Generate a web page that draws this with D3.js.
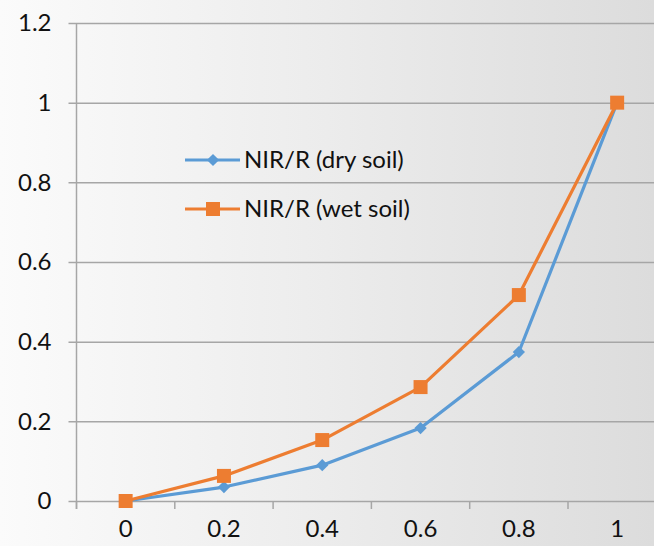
<!DOCTYPE html>
<html><head><meta charset="utf-8">
<script src="https://cdn.jsdelivr.net/npm/d3@7"></script>
<style>html,body{margin:0;padding:0;background:#fff}svg{display:block}</style>
</head><body>
<svg id="c" width="654" height="546"></svg>
<script>
const categories = ["0", "0.2", "0.4", "0.6", "0.8", "1"];
const drySoil = [0, 0.035, 0.09, 0.183, 0.374, 1];
const wetSoil = [0, 0.063, 0.153, 0.286, 0.517, 1];
const yTicks = [0, 0.2, 0.4, 0.6, 0.8, 1, 1.2];
const seriesNames = ["NIR/R (dry soil)", "NIR/R (wet soil)"];
const seriesColors = ["#5B9BD5", "#ED7D31"];

const W = 654, H = 546;
const svg = d3.select("#c");
const defs = svg.append("defs");
const grad = defs.append("linearGradient").attr("id","bg").attr("x1","0").attr("x2","1").attr("y1","0").attr("y2","0");
grad.append("stop").attr("offset","0").attr("stop-color","#fbfbfb");
grad.append("stop").attr("offset","0.5").attr("stop-color","#ececec");
grad.append("stop").attr("offset","1").attr("stop-color","#dcdcdc");
svg.append("rect").attr("width",W).attr("height",H).attr("fill","url(#bg)");

const plotLeft = 76.5, plotTop = 23, plotBottom = 501;
const x = d3.scaleBand().domain(categories).range([plotLeft, plotLeft + 6*98.3]);
const y = d3.scaleLinear().domain([0, 1.2]).range([plotBottom, plotTop]);
const font = "Lato, 'Open Sans', sans-serif";
const gridColor = "#a6a6a6";

// gridlines
const yAxis = d3.axisLeft(y).tickValues(yTicks).tickSize(-(W - plotLeft)).tickPadding(25)
  .tickFormat(d => d3.format("~g")(d));
const gy = svg.append("g").attr("transform", `translate(${plotLeft},0)`).call(yAxis);
gy.select(".domain").remove();
gy.selectAll(".tick line").attr("stroke", gridColor).attr("stroke-width", 1.5).attr("x1", -8);
gy.selectAll(".tick text").attr("font-family", font).attr("font-size", 24).attr("fill", "#111");

// y axis line
svg.append("line").attr("x1", plotLeft).attr("x2", plotLeft).attr("y1", plotTop).attr("y2", plotBottom + 8)
  .attr("stroke", gridColor).attr("stroke-width", 1.5);

// x axis
const xAxis = d3.axisBottom(x).tickSize(0).tickPadding(29);
const gx = svg.append("g").attr("transform", `translate(0,${plotBottom})`).call(xAxis);
gx.select(".domain").remove();
gx.selectAll(".tick text").attr("font-family", font).attr("font-size", 24).attr("fill", "#111").attr("dy","0.3em");
// category boundary ticks
const bounds = categories.map(c => x(c) + x.bandwidth()).concat([x(categories[0])]);
svg.append("g").selectAll("line").data(bounds).join("line")
  .attr("x1", d => d).attr("x2", d => d).attr("y1", plotBottom).attr("y2", plotBottom + 8)
  .attr("stroke", gridColor).attr("stroke-width", 1.5);

const cx = c => x(c) + x.bandwidth()/2;
const line = d3.line().x(d => cx(d.c)).y(d => y(d.v));
const series = [drySoil, wetSoil].map((vals, i) => ({
  name: seriesNames[i], color: seriesColors[i],
  pts: vals.map((v, j) => ({c: categories[j], v}))
}));
const diamond = d3.symbol().type(d3.symbolSquare).size(75)();
const square = d3.symbol().type(d3.symbolSquare).size(196)();

series.forEach((s, i) => {
  svg.append("path").datum(s.pts).attr("d", line).attr("fill","none")
    .attr("stroke", s.color).attr("stroke-width", 3.2).attr("stroke-linejoin","round");
  svg.append("g").selectAll("path").data(s.pts).join("path")
    .attr("d", i === 0 ? diamond : square)
    .attr("transform", d => `translate(${cx(d.c)},${y(d.v)})` + (i === 0 ? " rotate(45)" : ""))
    .attr("fill", s.color);
});

// legend
const legY = [160, 209];
series.forEach((s, i) => {
  const g = svg.append("g").attr("transform", `translate(0,${legY[i]})`);
  g.append("line").attr("x1",185).attr("x2",240).attr("y1",0).attr("y2",0)
    .attr("stroke", s.color).attr("stroke-width", 3.2);
  g.append("path").attr("d", i === 0 ? diamond : square)
    .attr("transform", `translate(213,0)` + (i === 0 ? " rotate(45)" : ""))
    .attr("fill", s.color);
  g.append("text").attr("x", 244).attr("y", 0).attr("dy","0.35em")
    .attr("font-family", font).attr("font-size", 24).attr("fill","#111").text(s.name);
});
</script>
</body></html>
